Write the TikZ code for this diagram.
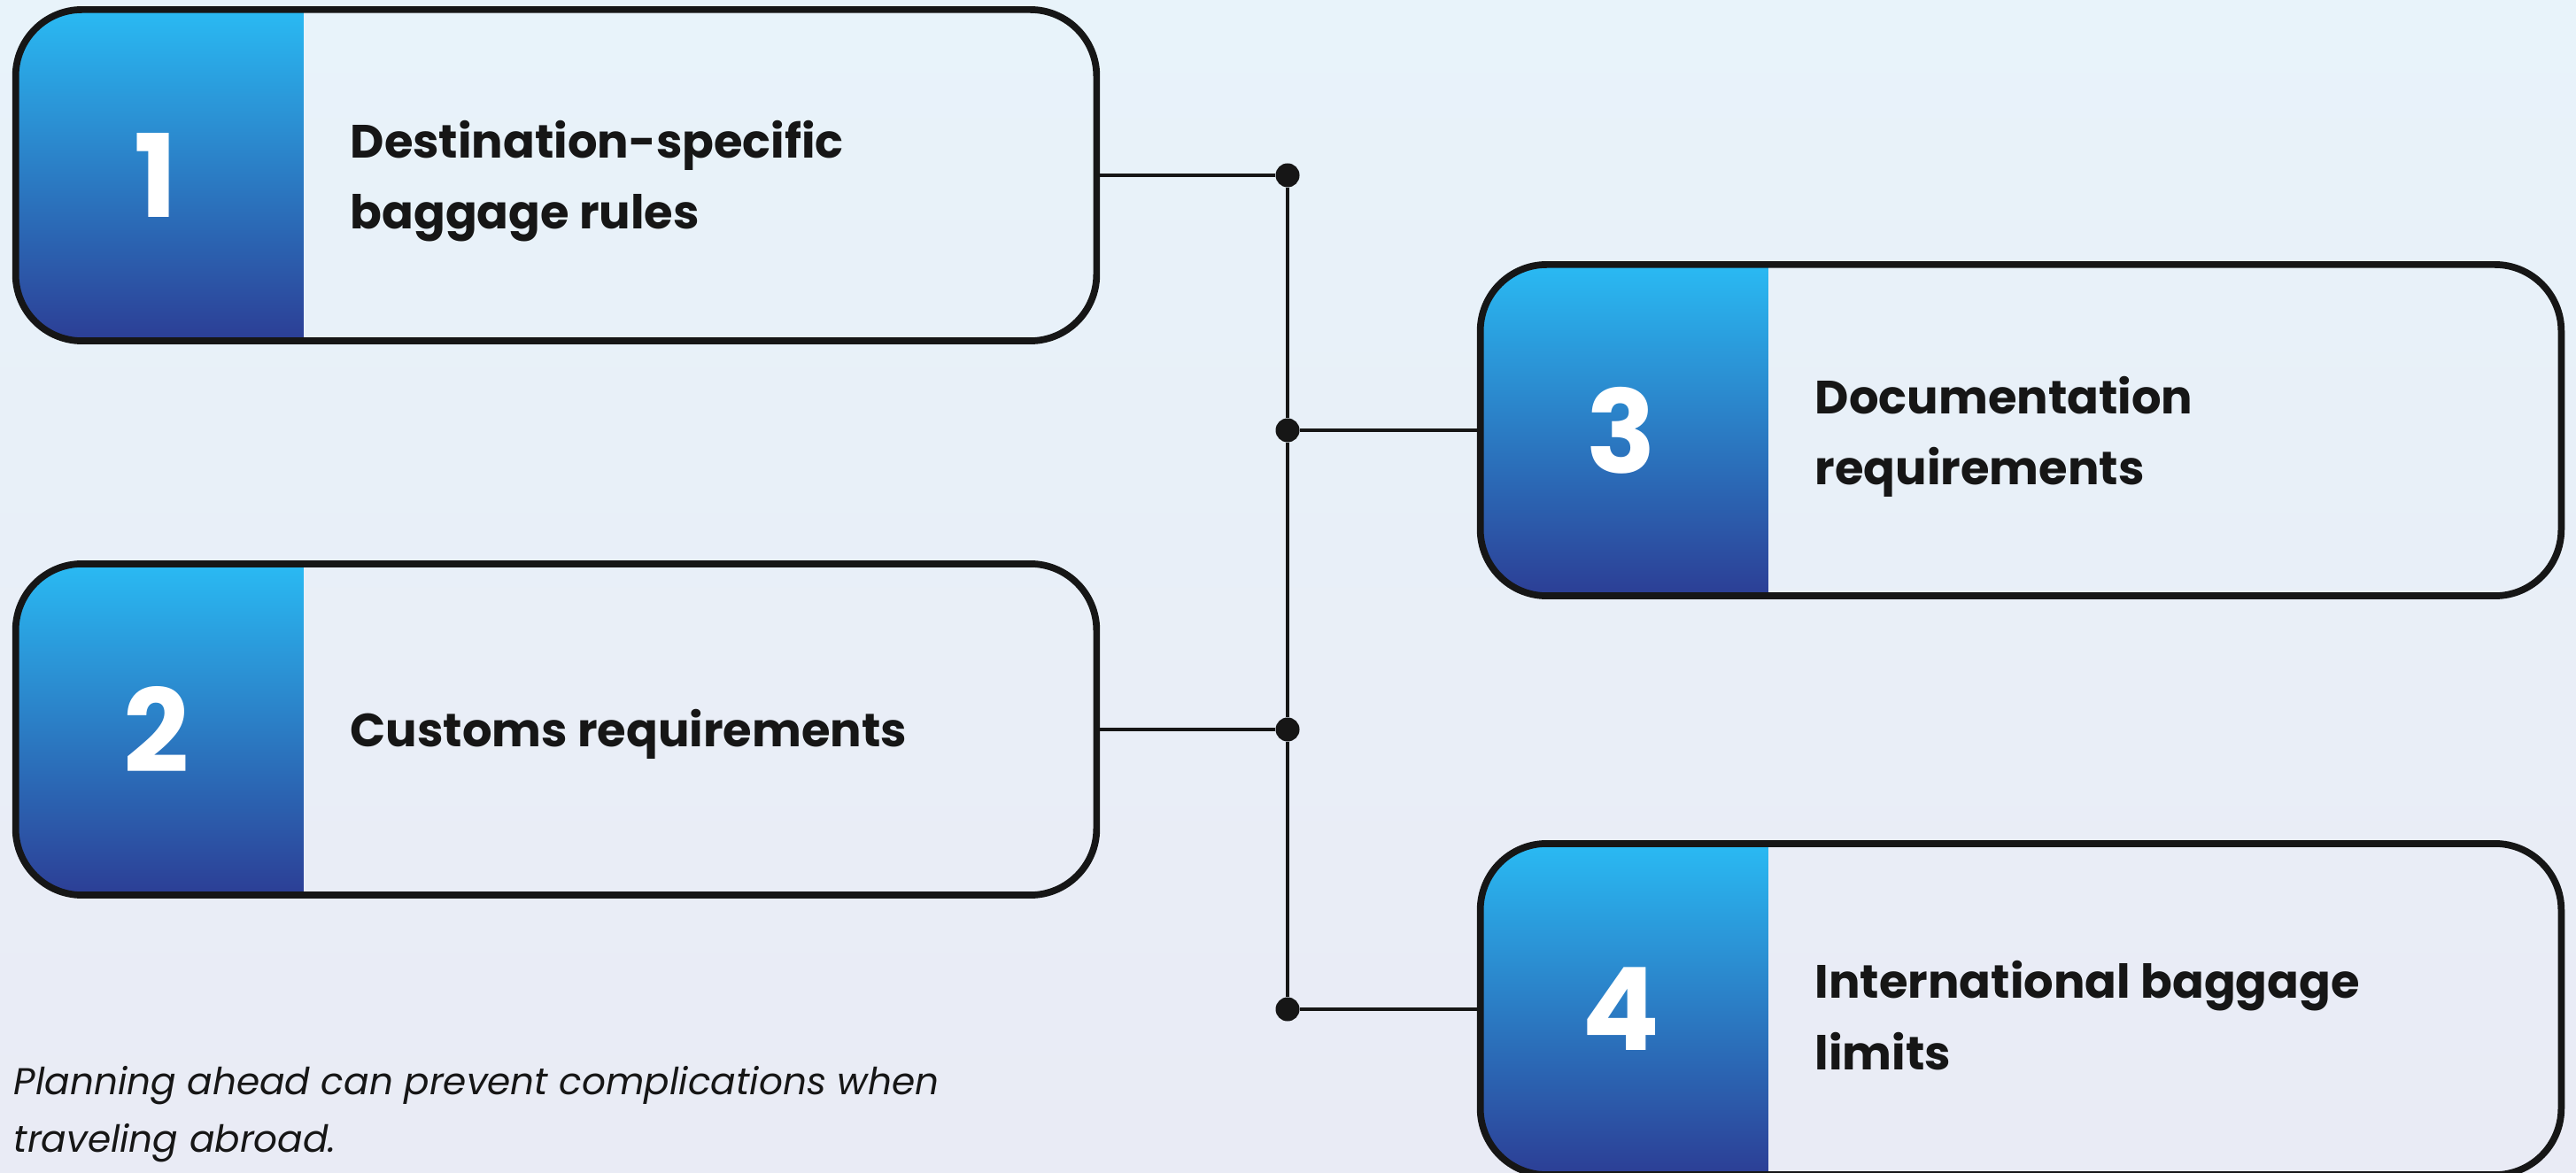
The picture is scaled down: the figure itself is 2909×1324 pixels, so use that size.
\documentclass[tikz,border=0pt]{standalone}
\usepackage{fontspec}
\setmainfont{Poppins}
\usetikzlibrary{positioning}
\definecolor{ink}{HTML}{161616}
\definecolor{bgtop}{HTML}{E8F3FA}
\definecolor{bgbot}{HTML}{E9EBF5}
\definecolor{striptop}{HTML}{2ABAF3}
\definecolor{stripbot}{HTML}{2C3E95}

\begin{document}
\begin{tikzpicture}[x=0.01cm,y=0.01cm]
  \tikzstyle{card}=[rectangle,rounded corners=0.75cm,draw=ink,line width=2.2pt,
    minimum width=12.2cm,minimum height=3.74cm,inner sep=0pt,
    path picture={\shade[sharp corners,top color=striptop,bottom color=stripbot]
      (path picture bounding box.north west) rectangle ([xshift=3.25cm]path picture bounding box.south west);}]
  \tikzstyle{num}=[text=white,inner sep=0pt,font=\fontsize{37}{37}\selectfont\bfseries]
  \tikzstyle{txt}=[anchor=west,align=left,inner sep=0pt,text=ink,font=\fontsize{15}{22.8}\selectfont\bfseries]
  \tikzstyle{dot}=[circle,fill=ink,inner sep=0pt,minimum size=0.27cm]
  \tikzstyle{wire}=[draw=ink,line width=1.3pt]

  \shade[top color=bgtop,bottom color=bgbot] (0,0) rectangle (2909,1324);
  \useasboundingbox (0,0) rectangle (2909,1324);

  \node[card] (C_1) at (628,1126) {};
  \node[card] (C_2) at (628,500) {};
  \node[card] (C_3) at (2282,838) {};
  \node[card] (C_4) at (2282,184) {};

  \node[num] (N_1) at ([xshift=1.625cm]C_1.west) {1};
  \node[num] (N_2) at ([xshift=1.625cm]C_2.west) {2};
  \node[num] (N_3) at ([xshift=1.625cm]C_3.west) {3};
  \node[num] (N_4) at ([xshift=1.625cm]C_4.west) {4};

  \node[txt] (T_1) at ([xshift=3.81cm,yshift=-0.07cm]C_1.west) {Destination-specific\\baggage rules};
  \node[txt] (T_2) at ([xshift=3.81cm,yshift=-0.05cm]C_2.west) {Customs requirements};
  \node[txt] (T_3) at ([xshift=3.81cm,yshift=-0.07cm]C_3.west) {Documentation\\requirements};
  \node[txt] (T_4) at ([xshift=3.81cm,yshift=-0.07cm]C_4.west) {International baggage\\limits};

  \node[dot] (D_1) at (1454,1126) {};
  \node[dot] (D_2) at (1454,838) {};
  \node[dot] (D_3) at (1454,500) {};
  \node[dot] (D_4) at (1454,184) {};

  \draw[wire] (D_1) -- (D_2) -- (D_3) -- (D_4);
  \draw[wire] (C_1) -- (D_1);
  \draw[wire] (C_2) -- (D_3);
  \draw[wire] (D_2) -- (C_3);
  \draw[wire] (D_4) -- (C_4);

  \node[anchor=base west,align=left,inner sep=0pt,text=ink,font=\fontsize{12}{18.2}\selectfont\itshape] (note) at (15,23)
    {Planning ahead can prevent complications when\\traveling abroad.};
\end{tikzpicture}
\end{document}
